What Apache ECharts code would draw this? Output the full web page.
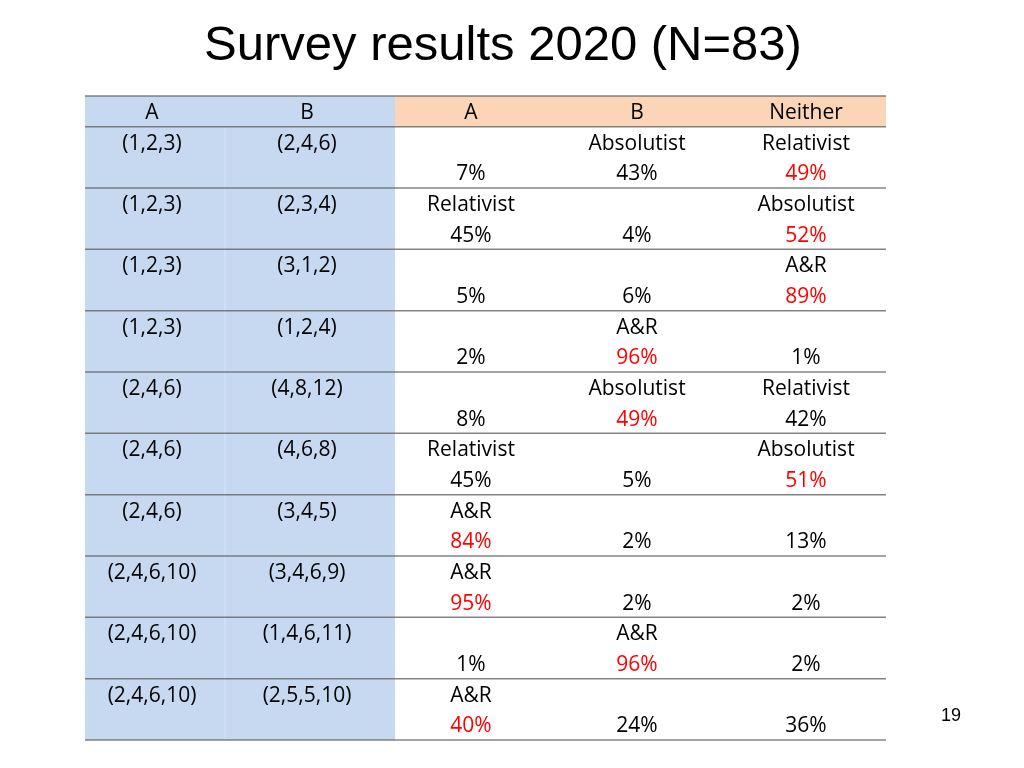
<!DOCTYPE html>
<html>
<head>
<meta charset="utf-8">
<script src="https://cdn.jsdelivr.net/npm/echarts@6/dist/echarts.min.js"></script>
<style>
html,body{margin:0;padding:0;background:#fff;}
#chart{width:1024px;height:768px;}
</style>
</head>
<body>
<div id="chart"></div>
<script>
// ---- data ----
const title = 'Survey results 2020 (N=83)';
const pageNumber = '19';
const colHeaders = ['A', 'B', 'A', 'B', 'Neither'];
const seqA = ['(1,2,3)', '(1,2,3)', '(1,2,3)', '(1,2,3)', '(2,4,6)', '(2,4,6)', '(2,4,6)', '(2,4,6,10)', '(2,4,6,10)', '(2,4,6,10)'];
const seqB = ['(2,4,6)', '(2,3,4)', '(3,1,2)', '(1,2,4)', '(4,8,12)', '(4,6,8)', '(3,4,5)', '(3,4,6,9)', '(1,4,6,11)', '(2,5,5,10)'];
const labelA = ['', 'Relativist', '', '', '', 'Relativist', 'A&R', 'A&R', '', 'A&R'];
const labelB = ['Absolutist', '', '', 'A&R', 'Absolutist', '', '', '', 'A&R', ''];
const labelN = ['Relativist', 'Absolutist', 'A&R', '', 'Relativist', 'Absolutist', '', '', '', ''];
const pctA = [7, 45, 5, 2, 8, 45, 84, 95, 1, 40];
const pctB = [43, 4, 6, 96, 49, 5, 2, 2, 96, 24];
const pctN = [49, 52, 89, 1, 42, 51, 13, 2, 2, 36];
const highlight = ['N', 'N', 'N', 'B', 'B', 'N', 'A', 'A', 'B', 'A'];

// ---- layout ----
const tableW = 801;
const colCenters = [67, 222, 386, 552, 721];
const blueW = 310;
const blueDivider = 140;
const nRows = seqA.length;
const yMax = 1 + 2 * nRows;
const textNudge = 0.06;
const FONT = '21px "Open Sans", "Noto Sans", sans-serif';
const RED = '#ff0000';

// text items: [x, y, text, isRed]
const textItems = [];
colHeaders.forEach((h, c) => textItems.push([colCenters[c], 0.5 + textNudge, h, 0]));
for (let i = 0; i < nRows; i++) {
  const y1 = 1 + 2 * i + 0.5 + textNudge, y2 = y1 + 1;
  textItems.push([colCenters[0], y1, seqA[i], 0]);
  textItems.push([colCenters[1], y1, seqB[i], 0]);
  const res = [[labelA[i], pctA[i], 'A'], [labelB[i], pctB[i], 'B'], [labelN[i], pctN[i], 'N']];
  res.forEach((r, k) => {
    if (r[0]) textItems.push([colCenters[2 + k], y1, r[0], 0]);
    textItems.push([colCenters[2 + k], y2, r[1] + '%', highlight[i] === r[2] ? 1 : 0]);
  });
}
// rectangles: [x0, y0, x1, y1, color]
const rects = [
  [0, 0, blueW, yMax, '#c6d9f1'],
  [blueW, 0, tableW, 1, '#fbd5b5']
];
// horizontal rule positions
const rules = [0, 1];
for (let i = 0; i < nRows; i++) rules.push(3 + 2 * i);

const chart = echarts.init(document.getElementById('chart'), null, {renderer: 'canvas'});
chart.setOption({
  animation: false,
  title: {
    text: title, left: 498, top: 17, textAlign: 'center',
    textStyle: {fontFamily: '"Liberation Sans", Arial, sans-serif', fontSize: 49, fontWeight: 'normal', color: '#000'}
  },
  graphic: [{
    type: 'text', left: 941, top: 707,
    style: {text: pageNumber, font: '18px "Liberation Sans", Arial, sans-serif', fill: '#000'}
  }],
  grid: {left: 85, top: 96, width: tableW, height: 644},
  xAxis: {type: 'value', min: 0, max: tableW, show: false},
  yAxis: {type: 'value', min: 0, max: yMax, inverse: true, show: false},
  series: [
    {
      type: 'custom', data: rects, silent: true, z: 1,
      renderItem: (params, api) => {
        const p0 = api.coord([api.value(0), api.value(1)]);
        const p1 = api.coord([api.value(2), api.value(3)]);
        return {type: 'rect', shape: {x: p0[0], y: p0[1], width: p1[0] - p0[0], height: p1[1] - p0[1]},
          style: {fill: rects[params.dataIndex][4]}};
      }
    },
    {
      type: 'custom', data: [[blueDivider, 1, yMax]], silent: true, z: 2,
      renderItem: (params, api) => {
        const p0 = api.coord([api.value(0), api.value(1)]);
        const p1 = api.coord([api.value(0), api.value(2)]);
        return {type: 'line', shape: {x1: p0[0], y1: p0[1], x2: p1[0], y2: p1[1]},
          style: {stroke: 'rgba(255,255,255,0.3)', lineWidth: 1}};
      }
    },
    {
      type: 'custom', data: rules.map(r => [r]), silent: true, z: 3,
      renderItem: (params, api) => {
        const p0 = api.coord([0, api.value(0)]);
        const p1 = api.coord([tableW, api.value(0)]);
        return {type: 'line', shape: {x1: p0[0], y1: p0[1], x2: p1[0], y2: p1[1]},
          style: {stroke: 'rgba(100,100,100,0.8)', lineWidth: 1.5}};
      }
    },
    {
      type: 'custom', data: textItems, silent: true, z: 4,
      renderItem: (params, api) => {
        const it = textItems[params.dataIndex];
        const p = api.coord([it[0], it[1]]);
        return {type: 'text', x: p[0], y: p[1],
          style: {text: it[2], font: FONT, fill: it[3] ? RED : '#000', align: 'center', verticalAlign: 'middle'}};
      }
    }
  ]
});
</script>
</body>
</html>
